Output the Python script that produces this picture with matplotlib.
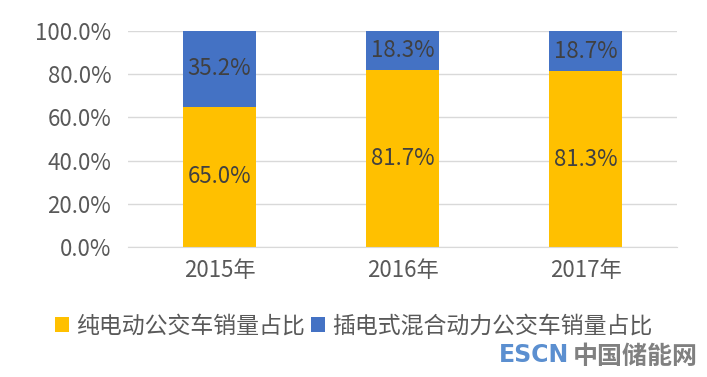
import numpy as np
import matplotlib
matplotlib.use('Agg')
import matplotlib.pyplot as plt
from matplotlib.ticker import FuncFormatter

plt.rcParams['font.family'] = ['Noto Sans CJK SC', 'DejaVu Sans']

years = ['2015年', '2016年', '2017年']
pure_ev = [65.0, 81.7, 81.3]
plugin = [35.2, 18.3, 18.7]
series_names = ['纯电动公交车销量占比', '插电式混合动力公交车销量占比']

fig = plt.figure(figsize=(7.07, 3.77), dpi=100)
ax = fig.add_axes([0.181, 0.345, 0.777, 0.573])

x = np.arange(len(years))
b1 = ax.bar(x, pure_ev, width=0.4, color='#FFC000', label=series_names[0], zorder=2)
b2 = ax.bar(x, plugin, width=0.4, bottom=pure_ev, color='#4472C4', label=series_names[1], zorder=2)

# labels in the middle of the visible part of each segment
for rects, vals in [(b1, pure_ev), (b2, plugin)]:
    for r, v in zip(rects, vals):
        top = min(r.get_y() + r.get_height(), 100)
        cy = (r.get_y() + top) / 2
        ax.text(r.get_x() + r.get_width() / 2, cy, f'{v:.1f}%',
                ha='center', va='center', fontsize=16, color='#404040', zorder=3)

ax.set_xlim(-0.5, 2.5)
ax.set_ylim(0, 100)
ax.set_yticks(np.arange(0, 101, 20))
ax.yaxis.set_major_formatter(FuncFormatter(lambda v, p: f'{v:.1f}%'))
ax.set_xticks(x)
ax.set_xticklabels(years)
ax.tick_params(axis='both', length=0, labelsize=16, colors='#595959', pad=12)
ax.tick_params(axis='x', pad=9)
ax.grid(axis='y', color='#d9d9d9', linewidth=1, zorder=0)
for s in ['top', 'right', 'left']:
    ax.spines[s].set_visible(False)
ax.spines['bottom'].set_color('#d9d9d9')

fig.legend(handles=[b1, b2], loc='center', bbox_to_anchor=(0.5, 0.135), ncol=2, frameon=False,
           fontsize=16.5, labelcolor='#595959', handlelength=0.6, handleheight=0.6,
           handletextpad=0.3, columnspacing=0.3)

fig.text(0.706, 0.04, 'ESCN', color='#5b8fd0', fontsize=17, fontweight='bold', family='DejaVu Sans')
fig.text(0.81, 0.035, '中国储能网', color='#808080', fontsize=18, fontweight='bold')

fig.savefig('out.png', dpi=100)
